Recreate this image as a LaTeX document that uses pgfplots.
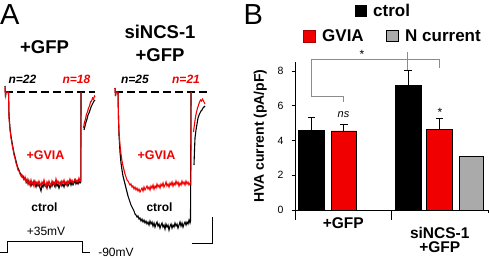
\documentclass[border=0pt]{standalone}
\usepackage{pgfplots}
\pgfplotsset{compat=1.18}
\usepackage{fontspec}
\setmainfont{Liberation Sans}
\definecolor{myred}{RGB}{240,0,0}
\definecolor{bargray}{RGB}{170,170,170}
\definecolor{brgray}{RGB}{140,140,140}
\newcommand{\fs}[1]{\fontsize{#1}{#1}\selectfont}
\begin{document}
\begin{tikzpicture}
\useasboundingbox (0,0) rectangle (489pt,258pt);
% ---------- overlay axis in picture (pixel) units: panel A and annotations ----------
\begin{axis}[at={(0pt,0pt)}, anchor=south west, scale only axis, width=489pt, height=258pt,
  xmin=0, xmax=489, ymin=0, ymax=258, y dir=reverse, hide axis, clip=false]
% baselines
\addplot[black, line width=1.1pt, dash pattern=on 8pt off 4pt] coordinates {(5,92) (95,92)};
\addplot[black, line width=1.1pt, dash pattern=on 8pt off 4pt] coordinates {(115,92) (210,92)};
% GFP ctrol (black)
\addplot[black, line width=1.1pt] coordinates {(5,86)(5.5,97)(6,92)(8.5,92)(9,115)(10,128)(11,136)(12,142)(13,148)(14,153)(15,157)(16,161)(17,165)(18,168)(19,170)(20,173)(21,174)(22,177)(23,176)(24,179)(25,178)(26,181)(27,183)(28,180)(29,184)(30,182)(31,186)(32,183)(33,185)(34,181)(35,184)(36,187)(37,183)(38,186)(39,184)(40,188)(41,191)(42,185)(43,187)(44,183)(45,186)(46,184)(47,188)(48,183)(49,185)(50,188)(51,184)(52,186)(53,182)(54,185)(55,187)(56,182)(57,186)(58,184)(59,188)(60,185)(61,182)(62,186)(63,184)(64,187)(65,183)(66,185)(67,182)(68,186)(69,184)(70,181)(71,185)(72,182)(73,185)(74,183)(75,180)(76,184)(77,182)(78,184)(79,181)(80,183)(80.8,182)(81,92)};
\addplot[black, line width=1.1pt] coordinates {(84,130)(85,126)(86,122)(87,119)(88,115)(89,113)(90,110)(91,107)(92,105)(93,103)(94,101)(95,100)};
% GFP +GVIA (red)
\addplot[myred, line width=1.1pt] coordinates {(5,88)(5.5,95)(6,92)(8.5,92)(9,118)(10,130)(11,138)(12,144)(13,149)(14,155)(15,158)(16,163)(17,166)(18,170)(19,171)(20,174)(21,176)(22,175)(23,178)(24,180)(25,177)(26,182)(27,179)(28,184)(29,181)(30,185)(31,180)(32,184)(33,182)(34,186)(35,181)(36,184)(37,182)(38,185)(39,181)(40,183)(41,186)(42,182)(43,184)(44,180)(45,184)(46,187)(47,182)(48,185)(49,181)(50,184)(51,186)(52,181)(53,184)(54,182)(55,185)(56,179)(57,183)(58,181)(59,184)(60,182)(61,185)(62,181)(63,183)(64,180)(65,184)(66,182)(67,185)(68,181)(69,183)(70,179)(71,182)(72,180)(73,183)(74,181)(75,179)(76,182)(77,180)(78,182)(79,178)(80,181)(80.8,180)(81.2,92)};
\addplot[myred, line width=1.1pt] coordinates {(83.5,128)(84.5,122)(85.5,119)(86.5,114)(87.5,112)(88.5,108)(89.5,106)(90.5,102)(91.5,101)(92.5,98)(93.5,99)(94.5,96)(95,97)};
% siNCS-1 ctrol (black)
\addplot[black, line width=1.1pt] coordinates {(115,88)(115.5,96)(116,92)(118,92)(118.5,118)(119,135)(120,152)(121,163)(122,170)(123,176)(124,180)(125,184)(126,188)(127,192)(128,196)(129,199)(130,202)(131,205)(132,207)(133,209)(134,211)(135,214)(136,215)(137,217)(138,216)(139,219)(140,218)(141,221)(142,219)(143,222)(144,220)(145,223)(146,221)(147,224)(148,222)(149,225)(150,221)(151,224)(152,222)(153,226)(154,223)(155,227)(156,224)(157,222)(158,226)(159,224)(160,228)(161,225)(162,223)(163,227)(164,225)(165,229)(166,224)(167,227)(168,225)(169,230)(170,226)(171,224)(172,228)(173,225)(174,227)(175,223)(176,226)(177,224)(178,228)(179,225)(180,222)(181,226)(182,223)(183,227)(184,224)(185,222)(186,225)(187,222)(188,224)(189,220)(190,223)(190.5,221)(191,92)};
\addplot[black, line width=1.1pt] coordinates {(194,165)(194.5,150)(195,138)(196,130)(197,124)(198,118)(199,115)(200,113)(201,111)(202,110)(203,108)(204,107)(205,106)};
% siNCS-1 +GVIA (red)
\addplot[myred, line width=1.1pt] coordinates {(115,88)(115.5,96)(116,92)(118,92)(118.5,118)(119,132)(120,145)(121,154)(122,161)(123,166)(124,170)(125,174)(126,177)(127,180)(128,181)(129,183)(130,185)(131,184)(132,187)(133,186)(134,189)(135,187)(136,190)(137,188)(138,191)(139,189)(140,192)(141,190)(142,188)(143,191)(144,187)(145,190)(146,188)(147,186)(148,189)(149,187)(150,190)(151,186)(152,188)(153,185)(154,189)(155,186)(156,188)(157,184)(158,187)(159,185)(160,188)(161,184)(162,186)(163,183)(164,187)(165,185)(166,182)(167,186)(168,184)(169,187)(170,183)(171,185)(172,182)(173,186)(174,183)(175,185)(176,181)(177,184)(178,182)(179,186)(180,183)(181,185)(182,181)(183,184)(184,182)(185,185)(186,181)(187,184)(188,182)(189,185)(190,183)(190.8,184)(191.2,92)};
\addplot[myred, line width=1.1pt] coordinates {(193.5,132)(194.5,124)(195.5,117)(196.5,112)(197.5,108)(198.5,105)(199.5,102)(200.5,100)(201.5,101)(202.5,99)(203.5,101)(204.5,103)(205,104)};
% scale bar and voltage protocol
\addplot[black, line width=1pt] coordinates {(191.7,243) (212.3,243) (212.3,216.7)};
\addplot[black, line width=1pt] coordinates {(0,252) (7,252) (7,241) (82,241) (82,252) (90,252)};
% panel A texts
\node[anchor=base west, inner sep=0pt, font=\fs{29}] at (0,24) {A};
\node[anchor=base west, inner sep=0pt, font=\fs{29}] at (243.5,24) {B};
\node[anchor=base, inner sep=0pt, font=\bfseries\fs{18.5}] at (44.5,53.3) {+GFP};
\node[anchor=base, inner sep=0pt, font=\bfseries\fs{18.5}] at (160,38.3) {siNCS-1};
\node[anchor=base, inner sep=0pt, font=\bfseries\fs{18.5}] at (160,61.3) {+GFP};
\node[anchor=base, inner sep=0pt, font=\bfseries\itshape\fs{12}] at (22.5,83.3) {n=22};
\node[anchor=base, inner sep=0pt, font=\bfseries\itshape\fs{12}, text=myred] at (76.5,83.3) {n=18};
\node[anchor=base, inner sep=0pt, font=\bfseries\itshape\fs{12}] at (135,83.3) {n=25};
\node[anchor=base, inner sep=0pt, font=\bfseries\itshape\fs{12}, text=myred] at (186,83.3) {n=21};
\node[anchor=base, inner sep=0pt, font=\bfseries\fs{12.5}, text=myred] at (45.5,159.5) {+GVIA};
\node[anchor=base, inner sep=0pt, font=\bfseries\fs{12.5}, text=myred] at (156.5,159.5) {+GVIA};
\node[anchor=base, inner sep=0pt, font=\bfseries\fs{12}] at (44.5,211.7) {ctrol};
\node[anchor=base, inner sep=0pt, font=\bfseries\fs{12}] at (159.5,211.7) {ctrol};
\node[anchor=base, inner sep=0pt, font=\fs{12}] at (46,235) {+35mV};
\node[anchor=base, inner sep=0pt, font=\fs{12}] at (116,256) {-90mV};
% legend of panel B
\fill[black] (355,5) rectangle (366.7,16.7);
\node[anchor=base west, inner sep=0pt, font=\bfseries\fs{17}] at (373,16.7) {ctrol};
\filldraw[fill=myred, draw=myred!70!black, line width=0.4pt] (303,30) rectangle (315,41.7);
\node[anchor=base west, inner sep=0pt, font=\bfseries\fs{17}] at (322,41.7) {GVIA};
\filldraw[fill=bargray, draw=black, line width=0.5pt] (386.7,30) rectangle (398.3,41.7);
\node[anchor=base west, inner sep=0pt, font=\bfseries\fs{17}] at (405,41.7) {N current};
% significance brackets
\draw[brgray, line width=0.9pt] (311.7,96.7) -- (311.7,59.7) -- (439,59.7) -- (439,68);
\draw[brgray, line width=0.9pt] (311.7,96.7) -- (343.3,96.7) -- (343.3,102);
\draw[brgray, line width=0.9pt] (407.5,52) -- (407.5,70);
\node[inner sep=0pt, font=\fs{12}] at (362,54) {*};
\node[inner sep=0pt, font=\fs{12}] at (440,112) {*};
\node[inner sep=0pt, font=\itshape\fs{11}] at (343.5,114.5) {ns};
\end{axis}
% ---------- panel B bar chart ----------
\begin{axis}[at={(295pt,48pt)}, anchor=south west, scale only axis, width=193pt, height=147.7pt,
  xmin=0, xmax=2, ymin=0, ymax=8.5,
  axis x line*=bottom, axis y line*=left,
  axis line style={line width=0.7pt},
  ytick={0,2,4,6,8}, tick align=outside, major tick length=3.5pt,
  tick style={black, line width=0.7pt},
  /pgf/number format/assume math mode=true,
  yticklabel style={font=\fs{10.5}, xshift=-4.5pt},
  ylabel={HVA current (pA/pF)}, ylabel style={font=\bfseries\fs{14}}, ylabel shift=4pt,
  xtick={0.5,1.5},
  xticklabels={+GFP, {\raisebox{-10pt}[\height][\depth]{\begin{tabular}{@{}c@{}}siNCS-1\\[-1pt]+GFP\end{tabular}}}},
  xtick style={draw=none},
  xticklabel style={font=\bfseries\fs{15.5}, anchor=north, inner sep=0pt, yshift=-3.5pt},
  clip=false]
\addplot[ybar, bar width=25.5pt, bar shift=0pt, fill=black, draw=black, line width=0.5pt,
  error bars/.cd, y dir=plus, y explicit,
  error bar style={black, line width=1pt},
  error mark options={rotate=90, mark size=3.6pt, black, line width=1pt}]
  coordinates {(0.17,4.59) +- (0,0.71) (1.171,7.19) +- (0,0.85)};
\addplot[ybar, bar width=25.5pt, bar shift=0pt, fill=myred, draw=black, line width=0.5pt,
  error bars/.cd, y dir=plus, y explicit,
  error bar style={black, line width=1pt},
  error mark options={rotate=90, mark size=3.6pt, black, line width=1pt}]
  coordinates {(0.507,4.56) +- (0,0.37) (1.497,4.64) +- (0,0.65)};
\addplot[ybar, bar width=24pt, bar shift=0pt, fill=bargray, draw=black, line width=0.5pt]
  coordinates {(1.824,3.07)};
\draw[black, line width=0.7pt] (axis cs:0,0) -- ++(0,-10pt);
\draw[black, line width=0.7pt] (axis cs:1,0) -- ++(0,-10pt);
\draw[black, line width=0.7pt] (axis cs:2,0) -- ++(0,-3pt);
\end{axis}
\end{tikzpicture}
\end{document}
